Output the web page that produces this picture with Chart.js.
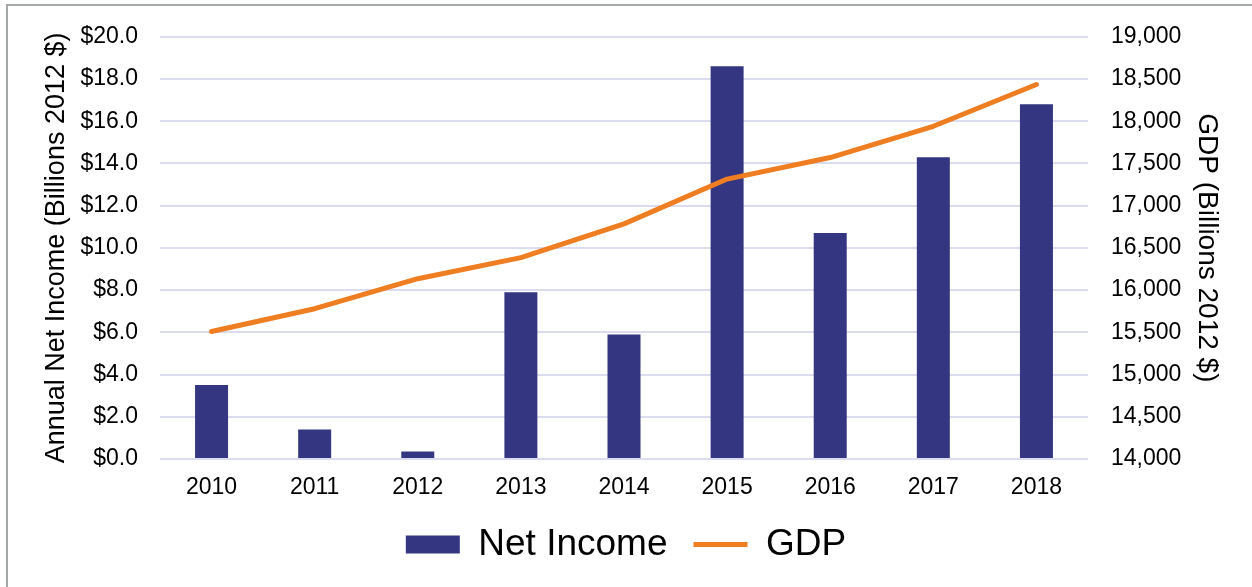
<!DOCTYPE html>
<html>
<head>
<meta charset="utf-8">
<script src="https://cdn.jsdelivr.net/npm/chart.js@4.4.1/dist/chart.umd.min.js"></script>
<style>
  body { margin: 0; background: #fff; }
  #wrap { position: relative; width: 1252px; height: 587px; overflow: hidden; }
  #frame { position: absolute; left: 6px; top: 4px; right: -10px; bottom: -10px;
           border-left: 2px solid #a5a9a9; border-top: 2px solid #a5a9a9; pointer-events: none; }
</style>
</head>
<body>
<div id="wrap">
  <canvas id="chart" width="1252" height="587"></canvas>
  <div id="frame"></div>
</div>
<script>
const years = ['2010', '2011', '2012', '2013', '2014', '2015', '2016', '2017', '2018'];
const netIncome = [3.5, 1.4, 0.35, 7.9, 5.9, 18.6, 10.7, 14.3, 16.8];
const gdp = [15510, 15780, 16135, 16385, 16785, 17315, 17570, 17940, 18435];

const font = '"Liberation Sans", Arial, sans-serif';
const barColour = '#353681';
const lineColour = '#ef7d22';
const gridColour = '#dcdcf0';

const ctx = document.getElementById('chart').getContext('2d');

const chart = new Chart(ctx, {
  data: {
    labels: years,
    datasets: [
      {
        type: 'line',
        label: 'GDP',
        data: gdp,
        yAxisID: 'yRight',
        borderColor: lineColour,
        borderWidth: 5,
        borderCapStyle: 'round',
        borderJoinStyle: 'round',
        pointRadius: 0,
        pointStyle: 'line',
        pointBorderColor: lineColour,
        pointBorderWidth: 5,
        tension: 0,
        order: 1
      },
      {
        type: 'bar',
        label: 'Net Income',
        data: netIncome,
        yAxisID: 'yLeft',
        backgroundColor: barColour,
        borderWidth: 0,
        pointStyle: 'rect',
        categoryPercentage: 1,
        barPercentage: 0.32,
        order: 2
      }
    ]
  },
  options: {
    responsive: false,
    animation: false,
    events: [],
    layout: { padding: { top: 31, left: 0, right: 0, bottom: 14 } },
    plugins: {
      tooltip: { enabled: false },
      legend: {
        position: 'bottom',
        reverse: true,
        labels: {
          usePointStyle: true,
          pointStyleWidth: 54,
          boxHeight: 18,
          padding: 26,
          color: '#000',
          font: { family: font, size: 37 }
        }
      }
    },
    scales: {
      x: {
        grid: { display: false },
        border: { display: false },
        ticks: { color: '#000', padding: 7, font: { family: font, size: 23 } },
        afterFit: s => { s.height = 41; }
      },
      yLeft: {
        position: 'left',
        min: 0,
        max: 20,
        ticks: {
          stepSize: 2,
          padding: 22,
          color: '#000',
          font: { family: font, size: 23 },
          callback: v => '$' + v.toFixed(1)
        },
        grid: { color: gridColour, lineWidth: 2, drawTicks: false },
        border: { display: false },
        title: {
          display: true,
          text: 'Annual Net Income (Billions 2012 $)',
          color: '#000',
          font: { family: font, size: 27 },
          padding: { top: 40, bottom: 0 }
        },
        afterFit: s => { s.width = 160; }
      },
      yRight: {
        position: 'right',
        min: 14000,
        max: 19000,
        ticks: {
          stepSize: 500,
          padding: 23,
          color: '#000',
          font: { family: font, size: 23 },
          callback: v => v.toLocaleString('en-US')
        },
        grid: { display: false, drawTicks: false },
        border: { display: false },
        title: {
          display: true,
          text: 'GDP (Billions 2012 $)',
          color: '#000',
          font: { family: font, size: 28 },
          padding: { top: 28, bottom: 0 }
        },
        afterFit: s => { s.width = 164; }
      }
    }
  }
});
</script>
</body>
</html>
